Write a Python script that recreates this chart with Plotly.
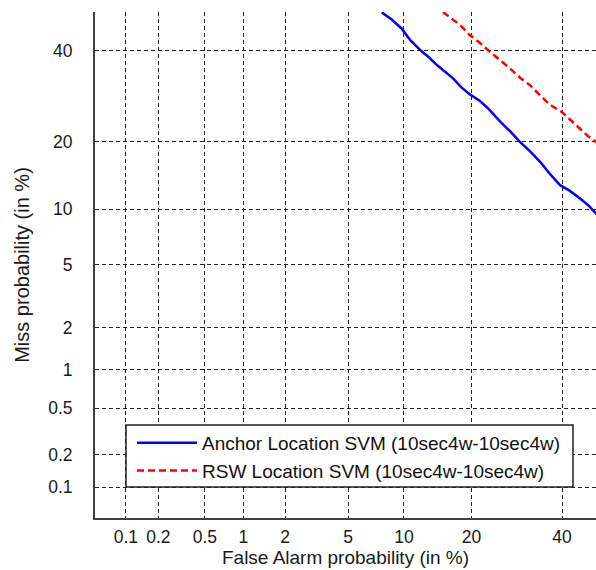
from statistics import NormalDist
import plotly.graph_objects as go

# ---- data (percent) ----
tick_pct = [0.1, 0.2, 0.5, 1, 2, 5, 10, 20, 40]
tick_text = ["0.1", "0.2", "0.5", "1", "2", "5", "10", "20", "40"]

anchor_fa = [7.7, 8.6, 9.7, 10.8, 12.0, 13.1, 14.3, 15.6, 16.8, 18.2, 19.7, 21.5, 23.2,
             25.6, 27.6, 29.9, 32.3, 34.6, 37.0, 39.5, 41.8, 44.5, 46.8, 48.7, 50.0]
anchor_miss = [49.9, 48.2, 45.8, 42.6, 40.2, 38.5, 36.5, 34.8, 33.3, 31.2, 29.6, 28.2, 26.5,
               23.8, 22.0, 19.9, 18.2, 16.5, 14.6, 13.0, 12.3, 11.3, 10.4, 9.5, 9.1]

rsw_fa = [15.2, 16.5, 18.0, 19.7, 21.4, 23.5, 25.5, 27.7, 30.0, 32.2, 34.6, 37.0, 39.9,
          42.2, 44.5, 46.6, 48.7, 50.0]
rsw_miss = [50.0, 48.4, 46.6, 44.0, 42.2, 39.8, 37.9, 35.7, 33.4, 31.7, 29.4, 27.3, 25.8,
            24.1, 22.5, 21.0, 19.9, 19.3]

names = ["Anchor Location SVM (10sec4w-10sec4w)", "RSW Location SVM (10sec4w-10sec4w)"]

nd = NormalDist()
def probit(pcts):
    return [nd.inv_cdf(p / 100.0) for p in pcts]

FONT = "Liberation Sans, Arial, sans-serif"

fig = go.Figure()
fig.add_trace(go.Scatter(x=probit(anchor_fa), y=probit(anchor_miss), mode="lines",
                         name=names[0], legendgroup="a",
                         line=dict(color="rgb(0,0,255)", width=2.5)))
fig.add_trace(go.Scatter(x=probit(rsw_fa), y=probit(rsw_miss), mode="lines",
                         name=names[1], legendgroup="b",
                         line=dict(color="rgb(255,0,0)", width=2.5, dash="7px,4px")))

lo = nd.inv_cdf(0.0005)
x_range = [lo, -0.0326]
y_range = [lo, 0.0]

axis_common = dict(
    tickvals=probit(tick_pct), ticktext=tick_text,
    showgrid=True, gridcolor="#222222", gridwidth=1, griddash="4px,3px",
    zeroline=False, showline=True, linecolor="#404040", linewidth=2,
    ticks="", tickfont=dict(family=FONT, size=17.5, color="#1a1a1a"),
)

fig.update_xaxes(range=x_range, title=dict(text="False Alarm probability (in %)",
                 font=dict(family=FONT, size=19, color="#1a1a1a"), standoff=3),
                 ticklabelstandoff=2, **axis_common)
fig.update_yaxes(range=y_range, title=dict(text="Miss probability (in %)",
                 font=dict(family=FONT, size=20, color="#1a1a1a"), standoff=13),
                 ticklabelstandoff=17, **axis_common)

# legend box
fig.add_shape(type="rect", xref="paper", yref="paper",
              x0=(126 - 95) / 501, x1=(573 - 95) / 501,
              y0=(518 - 487) / 506, y1=(518 - 425) / 506,
              fillcolor="white", line=dict(color="#222222", width=1.5), layer="above")

fig.update_layout(
    width=596, height=570,
    margin=dict(l=95, r=0, t=12, b=52),
    plot_bgcolor="white", paper_bgcolor="white",
    legend=dict(x=(132 - 95) / 501, y=(518 - 424) / 506, xanchor="left", yanchor="top",
                bgcolor="rgba(0,0,0,0)", borderwidth=0, itemwidth=60, tracegroupgap=0,
                font=dict(family=FONT, size=19, color="#111111")),
    showlegend=True,
)

fig.write_html("out.html", config={"displayModeBar": False},
               post_script="document.body.style.margin='0';document.body.style.overflow='hidden';")
